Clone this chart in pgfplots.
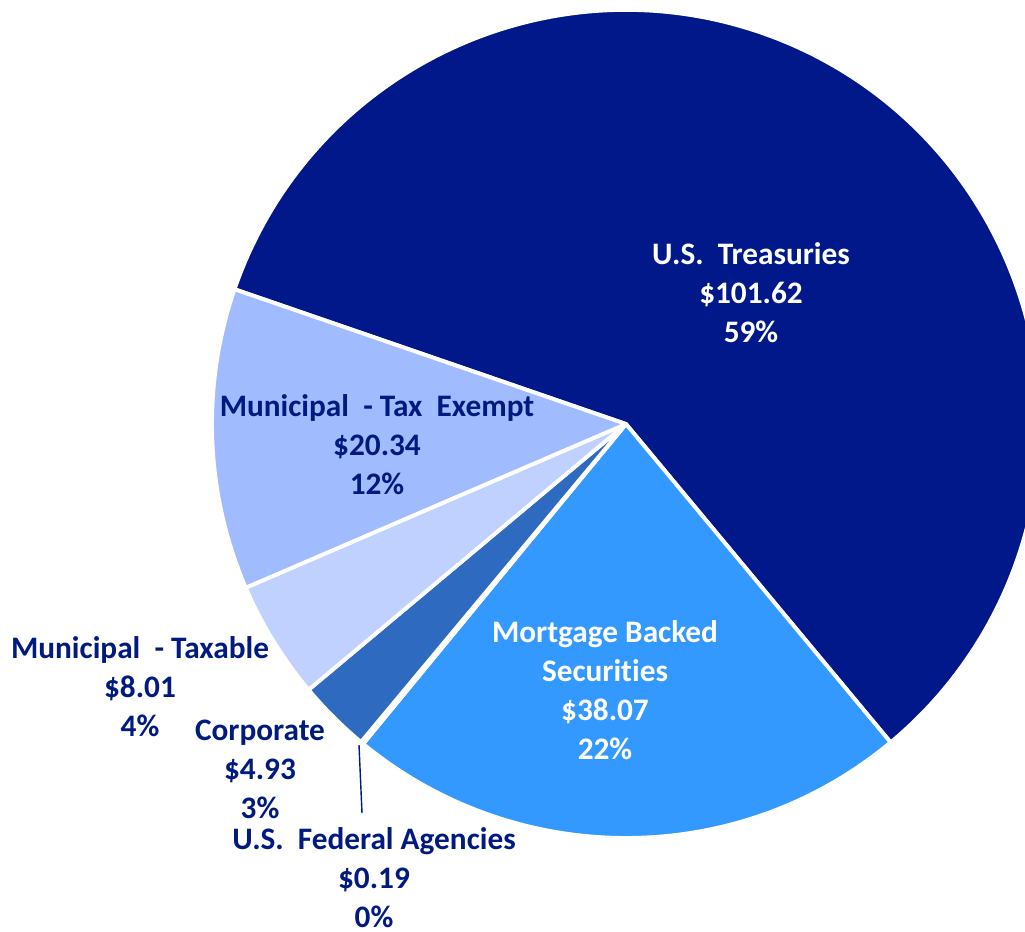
\documentclass[border=0pt]{standalone}
\usepackage{pgfplots}
\pgfplotsset{compat=1.18}
\usepackage{fontspec}
\setmainfont{Carlito}[Ligatures=NoCommon]
\definecolor{treas}{HTML}{00188A}
\definecolor{mbs}{HTML}{3399FF}
\definecolor{fed}{HTML}{1F4FA8}
\definecolor{corp}{HTML}{2E6BC0}
\definecolor{mtax}{HTML}{C0D1FF}
\definecolor{mte}{HTML}{A1BBFF}
\definecolor{navytxt}{HTML}{001A80}
% data (values in $)
\def\vTreas{101.62}
\def\vMBS{38.07}
\def\vFed{0.19}
\def\vCorp{4.93}
\def\vMTax{8.01}
\def\vMTE{20.34}
\pgfmathsetmacro{\total}{\vTreas+\vMBS+\vFed+\vCorp+\vMTax+\vMTE}
\pgfmathsetmacro{\aA}{161}
\pgfmathsetmacro{\aB}{\aA-\vTreas/\total*360}
\pgfmathsetmacro{\aC}{\aB-\vMBS/\total*360}
\pgfmathsetmacro{\aD}{\aC-\vFed/\total*360}
\pgfmathsetmacro{\aE}{\aD-\vCorp/\total*360}
\pgfmathsetmacro{\aF}{\aE-\vMTax/\total*360}
\pgfmathsetmacro{\aG}{\aF-\vMTE/\total*360}
\newcommand\pieslice[3]{\fill[#1, draw=white, line width=1.1pt, line join=round] (626,507) -- ++(#2:4.14cm) arc[start angle=#2, end angle=#3, radius=4.14cm] -- cycle;}
\tikzset{lbl/.style={font=\bfseries\fontsize{8.9}{11.1}\selectfont, align=center, inner sep=0pt}}
\begin{document}
\begin{tikzpicture}
\begin{axis}[
  width=10.25cm, height=9.31cm, scale only axis,
  xmin=0, xmax=1025, ymin=0, ymax=931,
  hide axis, clip=true,
]
\pieslice{treas}{\aA}{\aB}
\pieslice{mbs}{\aB}{\aC}
\pieslice{fed}{\aC}{\aD}
\pieslice{corp}{\aD}{\aE}
\pieslice{mtax}{\aE}{\aF}
\pieslice{mte}{\aF}{\aG}
\draw[navytxt, line width=0.4pt] (359,186) -- (362,118);
\node[lbl, text=white] at (751,638) {U.S.\ \ Treasuries\\\$101.62\\59\%};
\node[lbl, text=navytxt] at (377,486) {Municipal \ - Tax \ Exempt\\\$20.34\\12\%};
\node[lbl, text=white] at (605,241) {Mortgage Backed\\Securities\\\$38.07\\22\%};
\node[lbl, text=navytxt] at (140,244) {Municipal \ - Taxable\\\$8.01\\4\%};
\node[lbl, text=navytxt] at (260,162) {Corporate\\\$4.93\\3\%};
\node[lbl, text=navytxt] at (374,53) {U.S.\ \ Federal Agencies\\\$0.19\\0\%};
\end{axis}
\pgfresetboundingbox
\useasboundingbox (0,0) rectangle (10.25cm,9.31cm);
\end{tikzpicture}
\end{document}
